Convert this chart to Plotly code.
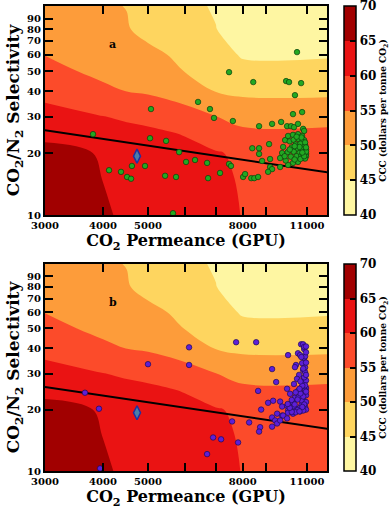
import math
import plotly.graph_objects as go

# ---------------- data ----------------
perm_grid = [3000, 4000, 4500, 5000, 6000, 7000, 8000, 12200]
sel_grid = [10, 15, 20, 25, 30, 40, 50, 60, 80, 104]
# CCC (dollars per tonne CO2) at each (selectivity row, permeance column)
ccc_grid = [
    [69.5, 67.7, 61.5, 62.5, 62.5, 61.0, 59.9, 58.5],
    [68.0, 64.9, 62.0, 62.8, 62.0, 60.8, 59.65, 58.0],
    [66.4, 64.7, 62.0, 62.0, 61.4, 60.3, 59.3, 57.5],
    [63.8, 62.2, 61.0, 60.9, 59.7, 57.5, 56.0, 56.0],
    [61.7, 60.1, 59.5, 58.7, 56.9, 55.1, 53.3, 53.2],
    [58.6, 56.1, 54.9, 54.4, 52.8, 49.8, 49.0, 49.0],
    [56.6, 53.7, 53.6, 52.6, 49.9, 48.3, 46.4, 46.4],
    [54.9, 52.1, 52.5, 51.1, 49.0, 47.1, 44.5, 44.6],
    [52.8, 51.3, 50.3, 48.7, 47.4, 45.1, 42.5, 42.5],
    [51.0, 50.4, 49.9, 47.5, 46.0, 44.6, 41.0, 41.0],
]
ccc_levels = [40, 45, 50, 55, 60, 65, 70]
band_colors = ['#fef6a2', '#fed55f', '#fd9c3a', '#fc4b2a', '#ea1313', '#a10000']

bound_perm = [3000, 12200]
bound_sel = [25.8, 16.1]

ref_perm = [4735]
ref_sel = [19.3]

green_perm = [3807, 5075, 5051, 5470, 5835, 6039, 6314, 6703, 4122, 4374, 4617, 4927, 4507, 4597,
              5443, 5747, 5661, 6409, 6800, 6938, 7618, 7475, 8428, 9919, 10065, 10685, 10470, 10365,
              10264, 10739, 8675, 9253, 9677, 9967, 10164, 10314, 10521, 10792, 10846, 8386, 8675, 9116,
              8675, 8806, 9161, 9161, 9253, 9072, 7475, 7547, 6736, 7148, 8014, 8094, 8344, 8470, 8633,
              9871, 10016, 10264, 10521, 10739, 10846, 10899, 10953, 10846, 10521, 10264, 10016, 9630,
              9630, 9725, 9774,
              10100, 10300, 10550, 10750, 10400, 10650, 10850, 10200, 10500, 10750, 10950, 10000, 10300,
              10600, 10850, 10950, 10150, 10450, 10700, 10900, 9900, 10350, 10650, 10800, 10950, 10600,
              10350, 10100, 9850, 10700, 10900, 10450, 10950, 10850, 10750]
green_sel = [24.7, 32.7, 23.6, 22.9, 20.2, 18.1, 18.5, 17.9, 16.5, 16.2, 17.3, 17.3, 15.3, 15.0,
             15.5, 15.3, 10.2, 35.4, 32.7, 29.6, 28.6, 49.4, 44.2, 44.7, 44.2, 43.7, 61.8, 38.2,
             30.9, 31.6, 27.0, 27.7, 28.3, 27.0, 27.0, 26.7, 27.7, 26.2, 25.6, 21.1, 21.1, 22.1,
             19.8, 18.3, 18.7, 17.1, 16.7, 16.2, 17.7, 17.3, 15.1, 16.0, 15.3, 15.8, 15.1, 15.1, 15.3,
             23.1, 24.2, 24.5, 24.7, 24.2, 23.1, 21.9, 19.8, 18.9, 18.1, 17.9, 17.5, 17.1,
             18.9, 20.0, 21.4,
             22.8, 23.2, 23.4, 22.7, 22.0, 22.2, 21.4, 21.3, 21.0, 20.8, 20.8, 20.2, 20.3,
             20.0, 20.2, 19.3, 19.2, 19.3, 19.4, 18.8, 18.4, 18.6, 18.7, 19.7, 20.3, 21.4,
             21.6, 20.8, 19.3, 23.8, 22.5, 24.0, 21.3, 19.3, 20.1]

purple_perm = [3658, 3921, 3943, 5000, 6130, 6130, 7741, 8551, 10016, 9253, 9442, 8633, 8764, 7588,
               8258, 8720, 8675, 6906, 7185, 7817, 6703, 9072, 9301, 9630, 9725, 9487, 9725, 9253,
               9394, 9253, 9487, 9967, 10118, 10685, 10792, 10846, 10521, 10632, 10417, 10365, 10739,
               10846, 10792, 10580, 10846, 10470, 10792, 10314, 10739, 10521, 10846, 10365, 10739,
               10264, 10792, 9967, 10365, 10016, 10632, 10264, 9774, 9967, 9630, 10016,
               10900, 10950, 10950, 10900, 10950, 10850, 10950, 10700, 10900, 10950, 10600, 10800,
               10500, 10400, 10200, 10700, 10550, 10800, 10650, 10900, 10750, 10600, 10500, 10300,
               10100, 10850, 10950, 10900, 10950, 10900, 10950, 10850, 10950, 10700, 10800, 10650,
               10400, 10200, 10000, 10950, 10850, 10750, 10600, 10350]
purple_sel = [24.2, 20.2, 10.3, 33.4, 40.4, 33.1, 42.8, 42.8, 37.0, 31.6, 27.3, 24.7, 20.0, 17.5,
              17.3, 16.4, 15.6, 14.6, 14.3, 13.8, 12.1, 21.6, 22.1, 21.9, 20.7, 19.1, 18.7, 18.3,
              17.7, 16.5, 17.1, 25.3, 23.9, 41.8, 41.8, 39.6, 37.8, 37.0, 33.1, 32.3, 33.8,
              35.8, 31.3, 29.6, 28.6, 28.3, 27.0, 26.7, 25.9, 24.7, 24.2, 22.9, 22.6,
              21.6, 21.4, 20.9, 20.4, 19.8, 19.6, 19.1, 18.7, 18.1, 17.7, 19.3,
              30.5, 27.8, 25.5, 24.8, 23.5, 22.0, 21.8, 21.0, 20.6, 20.0, 20.3, 19.8,
              19.9, 19.4, 19.5, 22.2, 23.0, 23.2, 24.0, 26.3, 26.2, 25.3, 22.4, 20.8,
              20.4, 28.8, 29.6, 32.2, 34.0, 36.5, 38.2, 40.6, 40.8, 36.2, 31.8, 27.5,
              24.3, 22.3, 21.3, 24.5, 21.2, 20.6, 19.6, 21.2]

x_tickvals = [3000, 4000, 5000, 6000, 7000, 8000, 9000, 11000]
x_ticktext = ['3000', '4000', '5000', '', '', '8000', '', '11000']
y_tickvals = [10, 20, 30, 40, 50, 60, 70, 80, 90]
y_ticktext = ['10', '20', '30', '40', '50', '60', '70', '80', '90']
cbar_ticks = [40, 45, 50, 55, 60, 65, 70]

# ---------------- figure ----------------
FONT = 'DejaVu Serif'
W, H = 392, 512
ML, MR, MT, MB = 45, 65, 6, 41
plot_h = H - MT - MB
top_dom = [(471 - 215) / plot_h, 1.0]
bot_dom = [0.0, (471 - 264) / plot_h]

cs = []
for i, c in enumerate(band_colors):
    cs.append([i / len(band_colors), c])
    cs.append([(i + 1) / len(band_colors), c])

fig = go.Figure()

panels = [('x', 'y', green_perm, green_sel, '#22a822', '#0b3d0b', top_dom, 'a'),
          ('x2', 'y2', purple_perm, purple_sel, '#5d1fd8', '#1e0a55', bot_dom, 'b')]

for xa, ya, px, py, fc, ec, dom, lab in panels:
    fig.add_trace(go.Contour(
        x=perm_grid, y=sel_grid, z=ccc_grid, xaxis=xa, yaxis=ya,
        zmin=ccc_levels[0], zmax=ccc_levels[-1], autocontour=False,
        contours=dict(start=ccc_levels[0], end=ccc_levels[-1], size=5,
                      coloring='fill', showlines=False),
        colorscale=cs, line=dict(width=0), hoverinfo='skip',
        colorbar=dict(
            x=(344 - ML) / (W - ML - MR), xanchor='left', xpad=0,
            y=dom[1], yanchor='top', ypad=0,
            len=(dom[1] - dom[0]) * plot_h, lenmode='pixels',
            thickness=12, outlinewidth=1.5, outlinecolor='black',
            tickvals=cbar_ticks, ticktext=[str(t) for t in cbar_ticks],
            ticks='inside', ticklen=6, tickwidth=1.5, tickcolor='black',
            ticklabeloverflow='allow',
            tickfont=dict(family=FONT, size=12, color='black', weight='bold'),
            title=dict(text='CCC (dollars per tonne CO<sub>2</sub>)', side='right',
                       font=dict(family=FONT, size=9, color='black', weight='bold')),
        ),
    ))
    fig.add_trace(go.Scatter(
        x=bound_perm, y=bound_sel, xaxis=xa, yaxis=ya, mode='lines',
        line=dict(color='black', width=2), showlegend=False, hoverinfo='skip'))
    fig.add_trace(go.Scatter(
        x=px, y=py, xaxis=xa, yaxis=ya, mode='markers',
        marker=dict(size=5.5, color=fc, line=dict(color=ec, width=0.7)),
        showlegend=False, hoverinfo='skip'))
    fig.add_trace(go.Scatter(
        x=ref_perm, y=ref_sel, xaxis=xa, yaxis=ya, mode='markers',
        marker=dict(symbol='diamond-tall', size=10, color='#4a7fa8',
                    line=dict(color='#2030a0', width=1.5)),
        showlegend=False, hoverinfo='skip'))
    fig.add_annotation(text='<b>' + lab + '</b>', xref=xa + ' domain', yref=ya + ' domain',
                       x=(107 - ML) / (W - ML - MR), y=(215 - 36) / 209, showarrow=False,
                       font=dict(family=FONT, size=11, color='black'))

axis_common = dict(
    type='log', showgrid=False, zeroline=False, showline=True, linewidth=2,
    linecolor='black', mirror='ticks', ticks='inside', ticklen=8, tickwidth=1.5,
    tickcolor='black', automargin=False,
    tickfont=dict(family=FONT, size=10, color='black', weight='bold'),
)
xtitle = dict(text='CO<sub>2</sub> Permeance (GPU)', standoff=5,
              font=dict(family=FONT, size=16, color='black', weight='bold'))
ytitle = dict(text='CO<sub>2</sub>/N<sub>2</sub> Selectivity', standoff=3,
              font=dict(family=FONT, size=17, color='black', weight='bold'))

xr = [math.log10(3000), math.log10(12150)]
yr = [1, math.log10(103.5)]

fig.update_layout(
    width=W, height=H, margin=dict(l=ML, r=MR, t=MT, b=MB, autoexpand=False),
    paper_bgcolor='white', plot_bgcolor='white', showlegend=False,
    xaxis=dict(axis_common, domain=[0, 1], anchor='y', range=xr,
               tickvals=x_tickvals, ticktext=x_ticktext, title=xtitle),
    yaxis=dict(axis_common, domain=top_dom, anchor='x', range=yr,
               tickvals=y_tickvals, ticktext=y_ticktext, title=ytitle),
    xaxis2=dict(axis_common, domain=[0, 1], anchor='y2', range=xr,
                tickvals=x_tickvals, ticktext=x_ticktext, title=xtitle),
    yaxis2=dict(axis_common, domain=bot_dom, anchor='x2', range=yr,
                tickvals=y_tickvals, ticktext=y_ticktext, title=ytitle),
)

fig.write_html('out.html', config={'displayModeBar': False},
               post_script="document.body.style.margin='0px';")
